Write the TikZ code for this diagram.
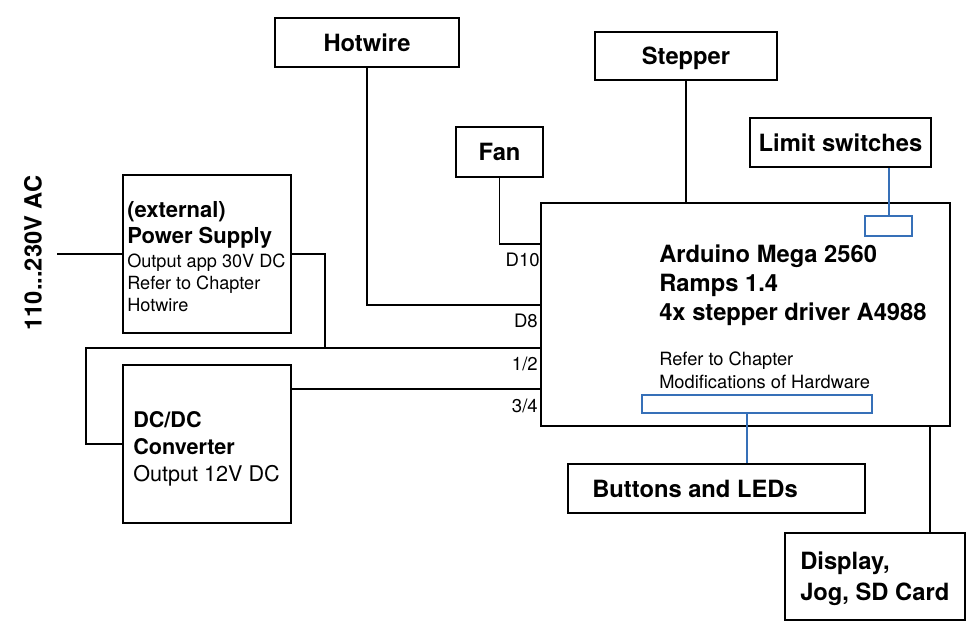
\documentclass[tikz,border=0pt]{standalone}
\usepackage{fontspec}
\setmainfont{TeX Gyre Heros}
\usepackage{tikz}

\definecolor{portblue}{RGB}{54,112,184}
\newcommand{\fbig}{\fontsize{17.8}{21.75}\selectfont\bfseries}
\newcommand{\fsmall}{\fontsize{13.7}{17.25}\selectfont}
\newcommand{\fpsu}{\fontsize{16.5}{19}\selectfont\bfseries}

\tikzset{
  blk/.style={draw, line width=1.5pt, inner sep=0pt},
  port/.style={draw=portblue, line width=1.5pt, inner sep=0pt},
  txt/.style={anchor=west, inner sep=0pt, align=left},
  wire/.style={line width=1.4pt},
  link/.style={draw=portblue, line width=1.5pt},
  pinlbl/.style={anchor=east, inner sep=0pt, font=\fontsize{13.9}{16}\selectfont}
}

\begin{document}
\begin{tikzpicture}[x=0.75pt,y=0.75pt,yscale=-1,xscale=1]
\useasboundingbox (0,0) rectangle (975,629);

% Boxes
\node [blk, minimum width=138pt, minimum height=36.75pt, font=\fbig] (hotwire) at (367,42.5) {Hotwire};
\node [blk, minimum width=136.5pt, minimum height=36pt, text depth=0pt, font=\fbig] (stepper) at (686,56) {Stepper};
\node [blk, minimum width=65.25pt, minimum height=37.5pt, font=\fbig] (fan) at (499.5,152) {Fan};
\node [blk, minimum width=135.75pt, minimum height=36.75pt, font=\fbig] (limit) at (840.5,142.5) {Limit switches};
\node [blk, minimum width=306.75pt, minimum height=167.25pt] (arduino) at (745.5,314.5) {};
\node [blk, minimum width=126pt, minimum height=118.5pt] (power) at (207,254) {};
\node [blk, minimum width=126pt, minimum height=118.5pt] (dcdc) at (207,444) {};
\node [blk, minimum width=222.75pt, minimum height=36.75pt] (buttons) at (716.5,488.5) {};
\node [blk, minimum width=135pt, minimum height=65.25pt] (display) at (875,576.5) {};

% Blue ports
\node [port, minimum width=35.25pt, minimum height=15pt] (limitport) at (888.5,226) {};
\node [port, minimum width=172.5pt, minimum height=13.5pt] (ledport) at (757,404) {};

% Text Node
\node [txt, font=\fontsize{13.6}{16.5}\selectfont] (powertext) at (127,257)
  {{\fpsu (external)}\\[3pt] {\fpsu Power Supply}\\[1.5pt]
   Output app 30V DC\\ Refer to Chapter\\ Hotwire};
\node [txt, font=\fontsize{16.2}{20.25}\selectfont] (dcdctext) at (133,449)
  {\textbf{DC/DC}\\ \textbf{Converter}\\ Output 12V DC};
\node [txt, font=\fbig] (buttonstext) at (592,489) {Buttons and LEDs};
\node [txt, font=\fontsize{17.8}{23.25}\selectfont\bfseries] (displaytext) at (800,579) {Display,\\ Jog, SD Card};
\node [txt, font=\fbig] (arduinohead) at (659,285)
  {Arduino Mega 2560\\ Ramps 1.4\\ 4x stepper driver A4988};
\node [txt, font=\fsmall] (arduinonote) at (659,370)
  {Refer to Chapter\\ Modifications of Hardware};
\node [rotate=90, inner sep=0pt, font=\fbig] (aclabel) at (33,253) {110...230V AC};

% Pin labels
\node [pinlbl] (lbldten) at (540,260) {D10};
\node [pinlbl] (lbldeight) at (538,321) {D8};
\node [pinlbl] (lblonetwo) at (538,364) {1/2};
\node [pinlbl] (lblthreefour) at (538,406) {3/4};

% Connector ends
\coordinate (pD10) at (541,244);
\coordinate (pD8) at (541,305);
\coordinate (p12) at (541,348);
\coordinate (p34) at (541,389);
\coordinate (psjoin) at (325,348);
\coordinate (bus) at (86,348);
\coordinate (acend) at (57,254);
\coordinate (disptap) at (930,426);
\coordinate (ledtap) at (747,413);

%Straight Lines
\draw [wire] (fan.south) |- (pD10);
\draw [wire] (hotwire.south) |- (pD8);
\draw [wire] (stepper.south) -- (stepper.south |- arduino.north);
\draw [wire] (acend) -- (power.west);
\draw [wire] (power.east) -| (psjoin);
\draw [wire] (p12) -- (bus) |- (dcdc.west);
\draw [wire] (dcdc.east |- p34) -- (p34);
\draw [wire] (disptap) -- (disptap |- display.north);
\draw [link] (limitport.north) -- (limitport.north |- limit.south);
\draw [link] (ledtap) -- (ledtap |- buttons.north);

\end{tikzpicture}
\end{document}
